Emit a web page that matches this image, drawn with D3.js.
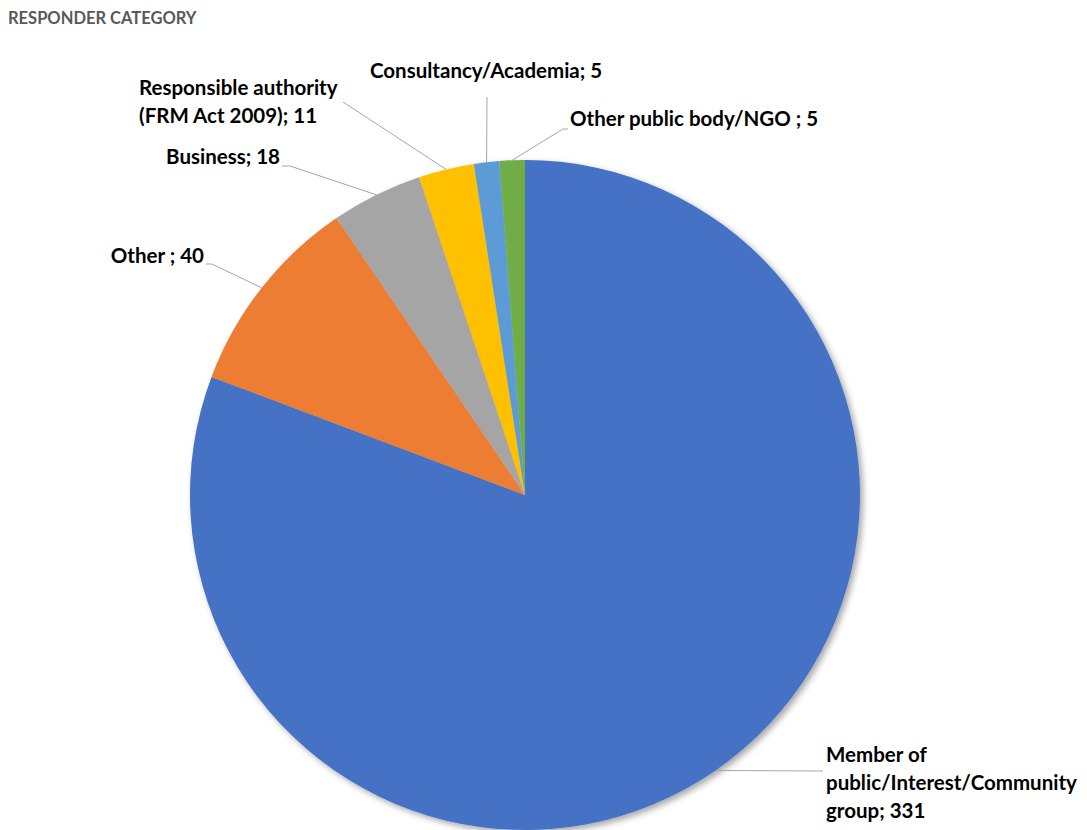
<!DOCTYPE html>
<html>
<head>
<meta charset="utf-8">
<script src="https://cdn.jsdelivr.net/npm/d3@7"></script>
<style>
  body { margin: 0; background: #fff; }
  text { font-family: Lato, "Open Sans", sans-serif; font-weight: bold; }
</style>
</head>
<body>
<div id="chart"></div>
<script>
// data
const categories = ["Member of public/Interest/Community group", "Other ", "Business",
  "Responsible authority (FRM Act 2009)", "Consultancy/Academia", "Other public body/NGO "];
const counts = [331, 40, 18, 11, 5, 5];
const colors = ["#4472C4", "#ED7D31", "#A5A5A5", "#FFC000", "#5B9BD5", "#70AD47"];
const labelLines = [
  ["Member of", "public/Interest/Community", "group; 331"],
  ["Other ; 40"],
  ["Business; 18"],
  ["Responsible authority", "(FRM Act 2009); 11"],
  ["Consultancy/Academia; 5"],
  ["Other public body/NGO ; 5"]
];

// label layout: elbow point, end of leader, text origin (first baseline)
const labelLayout = [
  { elbow: [823, 771], end: [823, 771], tx: 826, ty: 762, anchor: "start" },
  { elbow: [212, 264], end: [206, 264], tx: 204, ty: 263, anchor: "end" },
  { elbow: [290, 166], end: [282, 166], tx: 280, ty: 164, anchor: "end" },
  { elbow: [343, 102], end: [343, 102], tx: 139, ty: 95, anchor: "start" },
  { elbow: [487, 97], end: [487, 97], tx: 370, ty: 78, anchor: "start" },
  { elbow: [563, 129], end: [568, 129], tx: 570, ty: 126, anchor: "start" }
];

const width = 1087, height = 830;
const cx = 525, cy = 495, radius = 335;

const svg = d3.select('#chart').append('svg')
  .attr('width', width)
  .attr('height', height);

const defs = svg.append('defs');
const f = defs.append('filter').attr('id', 'shadow')
  .attr('x', '-10%').attr('y', '-10%').attr('width', '120%').attr('height', '120%');
f.append('feDropShadow')
  .attr('dx', 3).attr('dy', 3).attr('stdDeviation', 3)
  .attr('flood-color', '#000').attr('flood-opacity', 0.35);

svg.append('text')
  .attr('x', 8).attr('y', 24)
  .attr('font-size', 16.5)
  .attr('fill', '#595959')
  .text('RESPONDER CATEGORY');

const data = categories.map((c, i) => ({ name: c, value: counts[i], i }));
const pie = d3.pie().sort(null).value(d => d.value);
const arcs = pie(data);
const arc = d3.arc().innerRadius(0).outerRadius(radius);

const g = svg.append('g').attr('transform', `translate(${cx},${cy})`);

g.append('g')
  .attr('filter', 'url(#shadow)')
  .selectAll('path')
  .data(arcs)
  .join('path')
    .attr('d', arc)
    .attr('fill', d => colors[d.data.i]);

// leader lines from the slice edge at mid angle
const edge = d => {
  const a = (d.startAngle + d.endAngle) / 2;
  return [cx + radius * Math.sin(a), cy - radius * Math.cos(a)];
};

svg.append('g')
  .selectAll('polyline')
  .data(arcs)
  .join('polyline')
    .attr('points', d => {
      const L = labelLayout[d.data.i];
      return [edge(d), L.elbow, L.end].map(p => p.join(',')).join(' ');
    })
    .attr('fill', 'none')
    .attr('stroke', '#a6a6a6')
    .attr('stroke-width', 1);

const labels = svg.append('g')
  .selectAll('text')
  .data(arcs)
  .join('text')
    .attr('font-size', 20.5)
    .attr('fill', '#000')
    .attr('text-anchor', d => labelLayout[d.data.i].anchor)
    .attr('x', d => labelLayout[d.data.i].tx)
    .attr('y', d => labelLayout[d.data.i].ty);

labels.selectAll('tspan')
  .data(d => labelLines[d.data.i].map((t, k) => ({ t, k, L: labelLayout[d.data.i] })))
  .join('tspan')
    .attr('x', d => d.L.tx)
    .attr('dy', d => d.k === 0 ? 0 : 28)
    .text(d => d.t);
</script>
</body>
</html>
